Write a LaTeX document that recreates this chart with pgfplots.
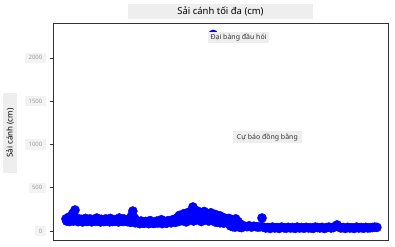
\documentclass[border=0pt]{standalone}
\usepackage{fontspec}
\setmainfont{Noto Sans}
\usepackage{pgfplots}
\pgfplotsset{compat=1.18}
\usepackage{pgfplotstable}

\definecolor{boxgray}{HTML}{EEEEEE}
\definecolor{spine}{HTML}{333333}

% Max wingspan per bird (index, cm)
\pgfplotstableread{
idx val
0 140
2 120
4 160
6 130
9 200
12 242
14 150
17 120
20 135
23 110
26 145
29 120
32 140
35 110
38 130
41 150
44 115
47 135
50 110
53 140
56 120
59 145
62 110
65 130
68 115
71 150
74 125
77 140
80 115
1 115
5 110
10 115
16 108
22 105
28 110
34 106
40 112
46 105
52 110
58 106
64 112
70 105
76 110
82 108
84 130
87 170
89 230
91 150
94 120
97 100
100 115
103 90
106 110
109 95
112 120
115 100
118 90
121 115
124 100
127 130
130 105
133 95
136 120
139 110
142 130
145 115
86 100
92 95
98 85
104 90
110 85
116 88
122 92
128 85
134 90
140 95
146 100
148 150
151 180
154 160
157 200
160 180
163 215
166 200
169 277
172 210
175 230
178 215
181 190
184 225
187 200
190 180
193 210
196 170
199 190
202 160
205 175
208 140
211 150
214 130
217 145
150 110
155 120
160 105
165 130
170 115
175 140
180 110
185 130
190 115
195 120
200 100
205 95
210 90
215 100
220 130
223 100
226 140
229 110
232 80
235 60
238 55
241 50
244 60
247 45
250 55
253 50
256 45
259 50
219 60
222 50
225 45
228 55
231 45
234 40
261 150
263 45
266 35
269 40
272 30
275 45
278 35
281 40
284 30
287 45
290 38
293 32
296 42
299 35
302 40
305 30
308 45
311 35
314 40
317 32
320 42
323 35
326 38
329 30
332 45
335 40
338 35
341 42
344 30
347 38
350 45
353 35
356 40
359 55
361 70
363 50
366 35
369 40
372 30
375 42
378 35
381 38
384 30
387 45
390 35
393 40
396 32
399 42
402 35
405 38
408 40
411 45
414 42
196 2270
229 1100
}\wingspan

\begin{document}
\begin{tikzpicture}[x=1bp,y=1bp]
\path[use as bounding box] (0,0) rectangle (395,-247);
\begin{axis}[
  at={(53bp,-240bp)}, anchor=south west,
  scale only axis, width=335bp, height=217bp,
  xmin=-17.3, xmax=428.8, ymin=-104, ymax=2402,
  axis line style={spine, line width=0.8bp},
  xtick=\empty,
  ytick={0,500,1000,1500,2000},
  ytick pos=left, tick align=outside,
  major tick length=3bp,
  tick style={spine, line width=0.6bp},
  /pgf/number format/assume math mode=true,
  /pgf/number format/1000 sep={},
  yticklabel style={font=\fontsize{6}{7}\selectfont, text=gray!80,
    fill=boxgray!70, inner xsep=3.5bp, inner ysep=3bp, xshift=-4bp},
  clip=false,
]
\addplot[only marks, mark=*, mark size=4.6bp, color=blue,
  mark options={draw=blue, fill=blue}] table[x=idx, y=val] {\wingspan};
% anchors for the two outlier labels
\coordinate (eagle) at (axis cs:189,2301);
\coordinate (falcon) at (axis cs:222,1155);
\end{axis}
\node[anchor=north west, fill=boxgray, inner xsep=2.5bp, inner ysep=2bp,
  font=\fontsize{7}{8}\selectfont, text=black!80] at (eagle) {Đại bàng đầu hói};
\node[anchor=north west, fill=boxgray, inner xsep=4bp, inner ysep=2bp,
  font=\fontsize{7}{8}\selectfont, text=black!80] at (falcon) {Cự báo đồng bằng};
\node[fill=boxgray, minimum width=185bp, minimum height=15bp, inner sep=0pt,
  font=\fontsize{9.5}{11}\selectfont] at (220.5,-11.5) {Sải cánh tối đa (cm)};
\node[fill=boxgray, rotate=90, minimum width=80bp, minimum height=14bp, inner sep=0pt,
  font=\fontsize{8}{9}\selectfont] at (10,-133) {Sải cánh (cm)};
\end{tikzpicture}
\end{document}
